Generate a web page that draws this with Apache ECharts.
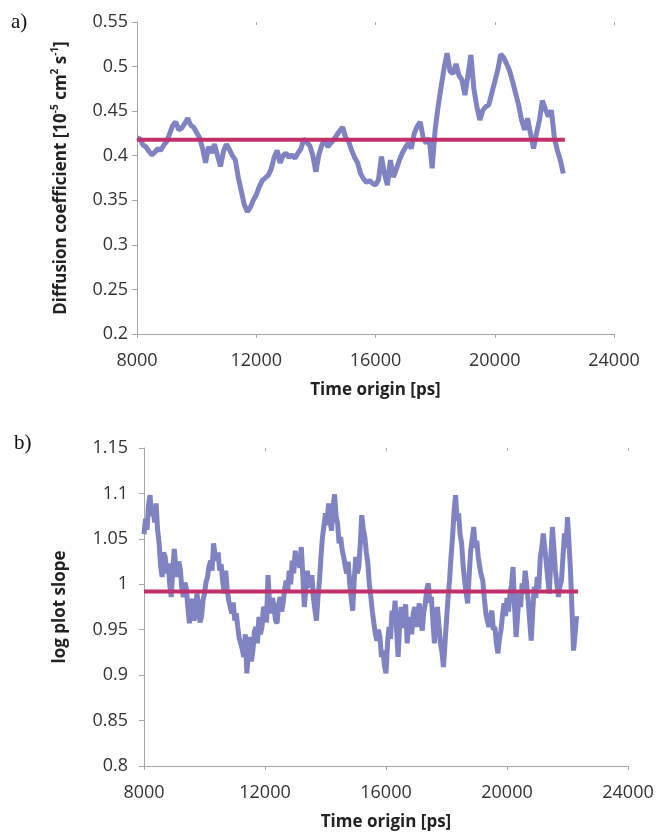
<!DOCTYPE html>
<html>
<head>
<meta charset="utf-8">
<script src="https://cdn.jsdelivr.net/npm/echarts@6/dist/echarts.min.js"></script>
<style>
html,body{margin:0;padding:0;background:#fff;}
#chart{width:657px;height:834px;}
</style>
</head>
<body>
<div id="chart"></div>
<script>
// Time origins (ps): first value and spacing of each series
const timeStart = 8000;
const diffusionStep = 100;
const slopeStep = 50;
const xTicks = [8000, 12000, 16000, 20000, 24000];

// a) Diffusion coefficient [1e-5 cm^2 s^-1], every 100 ps
const diffusion = [
 0.420,0.419,0.412,0.410,0.405,0.401,0.404,0.408,0.406,0.412,
 0.416,0.425,0.434,0.438,0.429,0.431,0.436,0.442,0.434,0.432,
 0.426,0.420,0.408,0.392,0.410,0.403,0.413,0.400,0.388,0.405,
 0.413,0.407,0.400,0.395,0.375,0.360,0.345,0.337,0.342,0.350,
 0.356,0.365,0.372,0.375,0.378,0.385,0.398,0.406,0.392,0.400,
 0.403,0.398,0.401,0.397,0.403,0.408,0.419,0.415,0.411,0.400,
 0.382,0.401,0.412,0.418,0.410,0.414,0.418,0.423,0.428,0.432,
 0.420,0.416,0.406,0.398,0.392,0.380,0.374,0.370,0.372,0.369,
 0.367,0.373,0.399,0.380,0.367,0.395,0.376,0.385,0.395,0.403,
 0.409,0.414,0.408,0.425,0.433,0.438,0.420,0.414,0.420,0.386,
 0.429,0.455,0.477,0.498,0.515,0.495,0.492,0.503,0.490,0.485,
 0.468,0.490,0.513,0.475,0.455,0.440,0.451,0.455,0.457,0.470,
 0.483,0.496,0.514,0.510,0.503,0.495,0.483,0.470,0.457,0.440,
 0.429,0.442,0.425,0.408,0.425,0.440,0.462,0.452,0.444,0.451,
 0.420,0.406,0.395,0.380
];
const diffusionMean = 0.418;

// b) log plot slope, every 50 ps
const slope = [
 1.055,1.072,1.060,1.088,1.098,1.075,1.085,1.068,1.089,1.060,
 1.045,1.020,1.008,1.035,1.030,1.012,1.023,1.000,0.986,1.015,
 1.039,1.020,1.008,1.025,1.017,0.995,0.986,1.002,0.995,0.975,
 0.957,0.978,0.984,0.960,0.968,0.990,0.979,0.958,0.964,0.982,
 0.990,1.002,1.008,1.020,1.026,1.015,1.045,1.032,1.026,1.035,
 1.015,1.022,1.004,0.990,1.015,0.995,0.982,0.975,0.968,0.980,
 0.960,0.968,0.953,0.940,0.935,0.928,0.920,0.945,0.902,0.925,
 0.942,0.915,0.927,0.948,0.953,0.935,0.964,0.945,0.953,0.975,
 0.972,0.958,1.010,0.980,0.968,0.985,0.975,0.960,0.957,0.978,
 0.986,0.970,0.979,0.995,1.004,0.992,1.015,1.000,1.026,1.012,
 1.037,1.020,1.030,1.018,1.041,1.010,0.975,0.995,1.015,1.000,
 0.997,1.010,0.985,0.972,0.960,0.985,1.004,1.030,1.052,1.065,
 1.078,1.065,1.089,1.070,1.059,1.085,1.099,1.075,1.067,1.045,
 1.052,1.038,1.030,1.020,1.012,1.025,1.001,0.985,0.971,1.005,
 1.030,1.012,1.019,1.045,1.076,1.060,1.052,1.035,1.023,1.000,
 0.986,0.970,0.957,0.945,0.938,0.950,0.942,0.920,0.927,0.910,
 0.902,0.935,0.953,0.940,0.971,0.958,0.982,0.950,0.920,0.955,
 0.975,0.952,0.960,0.978,0.935,0.955,0.964,0.945,0.968,0.975,
 0.953,0.965,0.979,0.958,0.949,0.970,0.979,0.995,1.001,0.980,
 0.986,0.960,0.935,0.960,0.975,0.955,0.935,0.925,0.909,0.935,
 0.960,0.985,1.004,1.030,1.052,1.080,1.098,1.070,1.078,1.055,
 1.045,1.020,1.004,0.990,0.979,1.010,1.037,1.050,1.063,1.040,
 1.048,1.030,1.019,1.010,1.004,0.985,0.968,0.960,0.953,0.965,
 0.971,0.950,0.953,0.935,0.924,0.940,0.949,0.965,0.979,0.965,
 0.985,0.970,0.990,1.000,1.019,0.975,0.942,0.965,0.990,0.975,
 1.001,0.990,1.015,1.000,0.982,0.960,0.938,0.970,0.997,0.985,
 1.008,0.995,1.030,1.040,1.056,1.040,1.023,1.005,0.990,1.030,
 1.063,1.040,1.015,1.000,0.986,0.998,1.004,1.030,1.056,1.040,
 1.074,1.045,1.015,0.970,0.927,0.945,0.965
];
const slopeMean = 0.992;
const meanEnd = 22350;

const yTicksA = [0.2, 0.55, 0.05];
const yTicksB = [0.8, 1.15, 0.05];

const toPairs = (arr, step) => arr.map((v, i) => [timeStart + i * step, v]);

const SERIES_COLOR = '#7f83c1';
const MEAN_COLOR = '#c2306c';
const AXIS_COLOR = '#a6a6a6';
const LABEL_COLOR = '#333';
const FONT = 'Open Sans';

function xAxisPair(gridIndex) {
  const base = {
    gridIndex, type: 'value', min: xTicks[0], max: xTicks[xTicks.length - 1],
    interval: xTicks[1] - xTicks[0], splitLine: {show: false}
  };
  return [
    Object.assign({}, base, {
      name: 'Time origin [ps]', nameLocation: 'middle', nameGap: 48,
      nameTextStyle: {fontFamily: FONT, fontWeight: 'bold', fontSize: 17, color: '#222'},
      axisLine: {lineStyle: {color: AXIS_COLOR, width: 1}},
      axisTick: {length: 4, lineStyle: {color: AXIS_COLOR}},
      axisLabel: {margin: 18, fontFamily: FONT, fontSize: 18, color: LABEL_COLOR,
                  formatter: v => String(v)}
    }),
    Object.assign({}, base, {
      axisLine: {show: false},
      axisTick: {inside: true, length: 3, lineStyle: {color: AXIS_COLOR}},
      axisLabel: {show: false}
    })
  ];
}

function yAxis(gridIndex, ticks, name, nameGap, labelMargin, rich) {
  return {
    gridIndex, type: 'value', min: ticks[0], max: ticks[1], interval: ticks[2],
    name, nameLocation: 'middle', nameGap,
    nameTextStyle: Object.assign({fontFamily: FONT, fontWeight: 'bold', fontSize: 17, color: '#222'}, rich ? {rich} : {}),
    splitLine: {show: false},
    axisLine: {show: true, lineStyle: {color: AXIS_COLOR, width: 1}},
    axisTick: {show: true, length: 5, lineStyle: {color: AXIS_COLOR}},
    axisLabel: {margin: labelMargin, fontFamily: FONT, fontSize: 18, color: LABEL_COLOR}
  };
}

const richName = {
  b: {fontFamily: FONT, fontWeight: 'bold', fontSize: 17, color: '#222', lineHeight: 22},
  sup: {fontFamily: FONT, fontWeight: 'bold', fontSize: 10, color: '#222', lineHeight: 22, verticalAlign: 'top'}
};

const chart = echarts.init(document.getElementById('chart'), null, {renderer: 'canvas'});
chart.setOption({
  animation: false,
  backgroundColor: '#fff',
  grid: [
    {left: 137, top: 22, width: 477, height: 312, containLabel: false},
    {left: 144, top: 448, width: 484, height: 318, containLabel: false}
  ],
  xAxis: [...xAxisPair(0), ...xAxisPair(1)],
  yAxis: [
    yAxis(0, yTicksA, '{b|Diffusion coefficient [10}{sup|-5}{b| cm}{sup|2}{b| s}{sup|-1}{b|]}', 65, 9, richName),
    yAxis(1, yTicksB, 'log plot slope', 75, 16, null)
  ],
  graphic: [
    {type: 'text', left: 11, top: 12, style: {text: 'a)', font: '21px "Liberation Serif"', fill: '#111'}},
    {type: 'text', left: 14, top: 433, style: {text: 'b)', font: '21px "Liberation Serif"', fill: '#111'}}
  ],
  series: [
    {type: 'line', xAxisIndex: 0, yAxisIndex: 0, data: toPairs(diffusion, diffusionStep), showSymbol: false,
     lineStyle: {color: SERIES_COLOR, width: 5}, itemStyle: {color: SERIES_COLOR}, z: 2},
    {type: 'line', xAxisIndex: 0, yAxisIndex: 0, data: [[timeStart, diffusionMean], [meanEnd, diffusionMean]],
     showSymbol: false, lineStyle: {color: MEAN_COLOR, width: 4}, itemStyle: {color: MEAN_COLOR}, z: 3},
    {type: 'line', xAxisIndex: 2, yAxisIndex: 1, data: toPairs(slope, slopeStep), showSymbol: false,
     lineStyle: {color: SERIES_COLOR, width: 5}, itemStyle: {color: SERIES_COLOR}, z: 2},
    {type: 'line', xAxisIndex: 2, yAxisIndex: 1, data: [[timeStart, slopeMean], [meanEnd, slopeMean]],
     showSymbol: false, lineStyle: {color: MEAN_COLOR, width: 4}, itemStyle: {color: MEAN_COLOR}, z: 3}
  ]
});
</script>
</body>
</html>
